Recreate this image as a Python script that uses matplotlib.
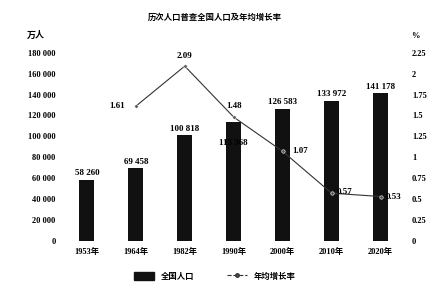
# 历次人口普查全国人口及年均增长率
import numpy as np
import matplotlib.pyplot as plt
from matplotlib.patches import Patch
from matplotlib.lines import Line2D

plt.rcParams['font.family'] = ['Liberation Serif', 'Noto Sans CJK SC', 'DejaVu Sans']

years = ['1953年', '1964年', '1982年', '1990年', '2000年', '2010年', '2020年']
population = [58260, 69458, 100818, 113368, 126583, 133972, 141178]
growth = [None, 1.61, 2.09, 1.48, 1.07, 0.57, 0.53]
left_ticks = [0, 20000, 40000, 60000, 80000, 100000, 120000, 140000, 160000, 180000]
right_ticks = [0, 0.25, 0.5, 0.75, 1, 1.25, 1.5, 1.75, 2, 2.25]

fig = plt.figure(figsize=(4.3, 2.85), dpi=100)
ax = fig.add_axes([0.145, 0.155, 0.797, 0.66])
x = np.arange(len(years))

ax.bar(x, population, width=0.3, color='#111111', zorder=2)
ax.set_xlim(-0.5, 6.5)
ax.set_ylim(0, 180000)
ax.set_yticks(left_ticks)
ax.set_yticklabels(['{:,}'.format(v).replace(',', ' ') for v in left_ticks],
                   fontsize=6, fontweight='bold')
ax.set_xticks(x)
ax.set_xticklabels(years, fontsize=6, fontweight='bold')
ax.tick_params(length=0, pad=5)
for s in ax.spines.values():
    s.set_visible(False)

# bar labels
for i, v in enumerate(population):
    lbl = '{:,}'.format(v).replace(',', ' ')
    if i == 3:
        ax.text(i, v - 24000, lbl, ha='center', va='bottom', fontsize=6.5,
                fontweight='bold', zorder=3)
    else:
        ax.text(i, v + 2500, lbl, ha='center', va='bottom', fontsize=6.5,
                fontweight='bold', zorder=3)

ax2 = ax.twinx()
ax2.set_ylim(0, 2.25)
ax2.set_yticks(right_ticks)
ax2.set_yticklabels([('%g' % v) for v in right_ticks], fontsize=6, fontweight='bold')
ax2.tick_params(length=0, pad=5)
for s in ax2.spines.values():
    s.set_visible(False)

gx = x[1:]
gy = growth[1:]
ax2.plot(gx, gy, color='#333333', lw=0.8, marker='o', ms=2.5,
         mfc='#555555', mec='white', mew=0.4, zorder=4)

# growth labels
offs = [(-0.22, 0.0, 'right', 'center'), (0, 0.07, 'center', 'bottom'),
        (0.0, 0.08, 'center', 'bottom'), (0.2, 0.0, 'left', 'center'),
        (0.1, 0.02, 'left', 'center'), (0.1, 0.0, 'left', 'center')]
for (xi, yi), (dx, dy, ha, va) in zip(zip(gx, gy), offs):
    ax2.text(xi + dx, yi + dy, '%.2f' % yi, ha=ha, va=va, fontsize=6.5,
             fontweight='bold', zorder=5)

fig.text(0.5, 0.94, '历次人口普查全国人口及年均增长率', ha='center', va='center',
         fontsize=6, fontweight='bold', family=['Noto Sans CJK SC'])
fig.text(0.083, 0.875, '万人', ha='center', va='center', fontsize=6.5,
         fontweight='bold', family=['Noto Sans CJK SC'])
fig.text(0.965, 0.875, '%', ha='center', va='center', fontsize=6, fontweight='bold')

handles = [Patch(color='#111111'),
           Line2D([0], [0], color='#333333', lw=0.8, ls='--', marker='o', ms=2.5,
                  mfc='#555555')]
fig.legend(handles, ['全国人口', '年均增长率'], loc='center', bbox_to_anchor=(0.5, 0.03),
           ncol=2, frameon=False, handlelength=2.4, handleheight=1.2, columnspacing=4,
           prop={'family': ['Noto Sans CJK SC'], 'size': 6, 'weight': 'bold'})

fig.savefig('out.png', dpi=100, facecolor='white')
